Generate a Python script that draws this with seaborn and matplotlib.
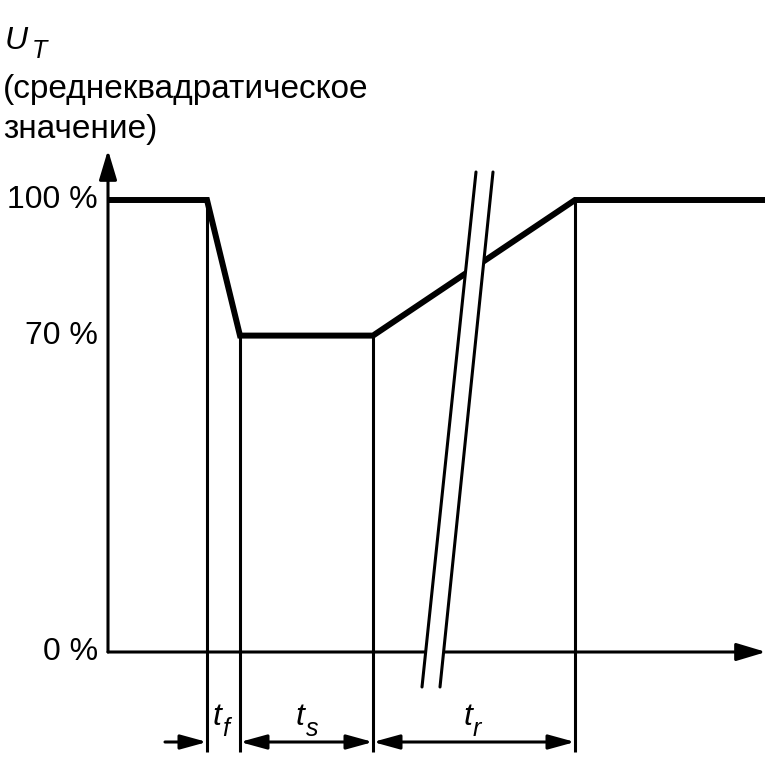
import matplotlib.pyplot as plt
import seaborn as sns

# Временная диаграмма провала напряжения (U_T в % от номинала)
t_points = [0, 99, 132, 265, 467, 657]
u_points = [100, 100, 70, 70, 100, 100]
y_ticks = [0, 70, 100]
y_tick_labels = ['0 %', '70 %', '100 %']
interval_subs = ['f', 's', 'r']

sns.set_style('white')
plt.rcParams['font.family'] = ['Liberation Sans', 'DejaVu Sans']
plt.rcParams['text.color'] = 'black'

W, H = 769, 757
X0, Y0, PX_PER_PCT = 108, 652, 4.52
FS = 23
FS_SUB = 18
FS_HEAD = 24


def px(x, y):
    # пиксели картинки -> координаты данных
    return x - X0, (Y0 - y) / PX_PER_PCT


fig = plt.figure(figsize=(W / 100, H / 100), dpi=100)
ax = fig.add_axes([0, 0, 1, 1])
ax.set_xlim(-X0, W - X0)
ax.set_ylim((Y0 - H) / PX_PER_PCT, Y0 / PX_PER_PCT)
ax.axis('off')

# кривая напряжения
sns.lineplot(x=t_points, y=u_points, color='black', lw=4.3, sort=False, ax=ax, zorder=3)
ax.lines[-1].set_solid_joinstyle('miter')
ax.lines[-1].set_solid_capstyle('butt')

# оси со стрелками
axis_arrow = dict(arrowstyle='-|>,head_length=0.9,head_width=0.27', color='black',
                  lw=2.2, mutation_scale=20, shrinkA=0, shrinkB=0)
ax.annotate('', xy=px(X0, 150), xytext=(0, 0), arrowprops=axis_arrow)
ax.annotate('', xy=px(766, Y0), xytext=(0, 0), arrowprops=axis_arrow)

for v, lab in zip(y_ticks, y_tick_labels):
    ax.text(px(98, 0)[0], v, lab, ha='right', va='center', fontsize=FS)

# вертикальные выносные линии
y_bottom = px(0, 752)[1]
for t, u in zip(t_points[1:5], u_points[1:5]):
    ax.plot([t, t], [u, y_bottom], color='black', lw=2.2, solid_capstyle='butt')

# размерные стрелки
dim_y = px(0, 742)[1]
one = dict(arrowstyle='-|>,head_length=0.8,head_width=0.22', color='black',
           lw=2.2, mutation_scale=20, shrinkA=0, shrinkB=0)
both = dict(one, arrowstyle='<|-|>,head_length=0.8,head_width=0.22')
ax.annotate('', xy=(t_points[1], dim_y), xytext=(px(165, 0)[0], dim_y), arrowprops=one)
ax.annotate('', xy=(t_points[3], dim_y), xytext=(t_points[2], dim_y), arrowprops=both)
ax.annotate('', xy=(t_points[4], dim_y), xytext=(t_points[3], dim_y), arrowprops=both)

lab_y = px(0, 725)[1]
sub_y = px(0, 736)[1]
for a, b, sub in zip(t_points[1:4], t_points[2:5], interval_subs):
    xc = (a + b) / 2 - 2
    ax.text(xc, lab_y, 't', ha='right', va='baseline', fontsize=FS, style='italic')
    ax.text(xc + 1, sub_y, sub, ha='left', va='baseline', fontsize=FS_SUB, style='italic')

# разрыв оси времени
l_top, l_bot = px(476, 172), px(422, 687)
r_top, r_bot = px(493, 172), px(440, 687)
ax.fill([l_top[0], r_top[0], r_bot[0], l_bot[0]], [l_top[1], r_top[1], r_bot[1], l_bot[1]],
        color='white', zorder=4)
ax.plot([l_top[0], l_bot[0]], [l_top[1], l_bot[1]], color='black', lw=2.2, zorder=5)
ax.plot([r_top[0], r_bot[0]], [r_top[1], r_bot[1]], color='black', lw=2.2, zorder=5)

# подпись оси
fig.text(5 / W, 1 - 49 / H, 'U', fontsize=FS, va='baseline', style='italic')
fig.text(32 / W, 1 - 58 / H, 'T', fontsize=FS_SUB, va='baseline', style='italic')
fig.text(3 / W, 1 - 98 / H, '(среднеквадратическое', fontsize=FS_HEAD, va='baseline')
fig.text(3 / W, 1 - 138 / H, 'значение)', fontsize=FS_HEAD, va='baseline')

fig.savefig('out.png', dpi=100)
